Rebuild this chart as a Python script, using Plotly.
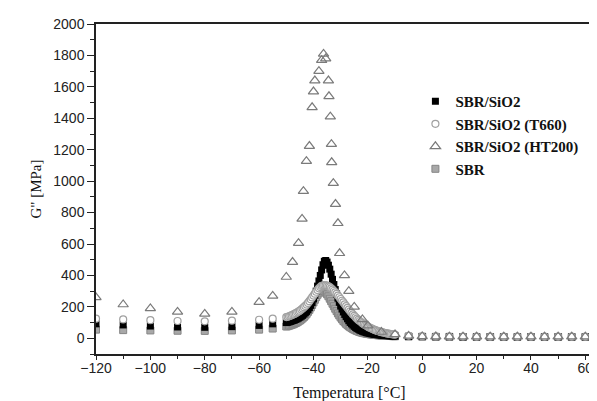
import plotly.graph_objects as go

# ---- data ----
t_low = [-120, -110, -100, -90, -80, -70, -60, -55]
t_mid = [-50 + 0.5 * i for i in range(81)]  # -50 .. -10 in 0.5 steps
t_high = [-5, 0, 5, 10, 15, 20, 25, 30, 35, 40, 45, 50, 55, 60]

sio2_low = [92, 85, 78, 72, 70, 74, 82, 92]
sio2_mid = [100, 102, 104, 107, 110, 113, 116, 120, 124, 129, 134, 140, 146, 154, 162, 171,
            182, 195, 210, 228, 250, 274, 300, 332, 365, 400, 435, 468, 490, 495, 485, 465,
            440, 408, 375, 342, 310, 282, 255, 229, 205, 186, 168, 152, 138, 124, 112, 101,
            92, 84, 76, 69, 63, 58, 53, 49, 45, 42, 39, 36, 34, 32, 30, 28, 27, 25, 24, 23,
            22, 21, 20, 19, 18, 17.5, 17, 16.5, 16, 15.5, 15, 14.5, 14]
sio2_high = [12, 11, 10, 10, 9, 9, 9, 9, 9, 9, 9, 9, 9, 9]

t660_low = [125, 120, 115, 110, 108, 112, 118, 125]
t660_mid = [135, 137, 140, 143, 147, 151, 155, 160, 165, 170, 176, 183, 190, 198, 206, 215,
            225, 236, 248, 260, 272, 284, 296, 307, 318, 326, 333, 336, 338, 337, 335, 330,
            325, 318, 310, 301, 292, 282, 272, 261, 250, 239, 228, 216, 205, 194, 183, 172,
            162, 152, 143, 134, 125, 117, 110, 103, 96, 90, 84, 79, 74, 69, 65, 61, 57, 53,
            50, 47, 44, 41, 39, 37, 35, 33, 31, 29.5, 28, 26.5, 25, 24, 23]
t660_high = [16, 13, 12, 11, 11, 10, 10, 10, 10, 10, 10, 10, 10, 10]

sbr_low = [55, 52, 50, 48, 47, 50, 55, 62]
sbr_mid = [75, 77, 80, 83, 86, 89, 93, 97, 102, 107, 113, 120, 127, 136, 145, 156, 168, 181,
           196, 212, 228, 245, 262, 277, 290, 299, 305, 304, 300, 291, 280, 267, 252, 236,
           220, 204, 188, 173, 158, 145, 132, 121, 110, 101, 92, 84, 77, 71, 65, 60, 55, 51,
           47, 43, 40, 37, 35, 33, 31, 29.5, 28, 26.5, 25, 24, 23, 22, 21, 20, 19, 18.5, 18,
           17.5, 17, 16.5, 16, 15.5, 15, 14.5, 14, 13.5, 13]
sbr_high = [11, 10, 9, 9, 8, 8, 8, 8, 8, 8, 8, 8, 8, 8]

ht_t = [-120, -110, -100, -90, -80, -70, -60, -55, -50, -47.7, -45.5, -44.2, -43.7, -42.6,
        -41.5, -40.5, -40, -39.5, -38, -37, -36.3, -35.5, -34.5, -34.3, -33.8, -33.4, -33.3,
        -32.7, -31.9, -31, -30.4, -28.6, -27, -25, -22, -20, -15, -10, -5, 0, 5, 10, 15, 20,
        25, 30, 35, 40, 45, 50, 55, 60]
ht_v = [260, 215, 190, 168, 155, 168, 230, 270, 390, 485, 605, 760, 936, 1127, 1223, 1470,
        1570, 1640, 1700, 1770, 1810, 1780, 1640, 1540, 1410, 1235, 1120, 987, 854, 732, 541,
        400, 300, 200, 120, 80, 40, 25, 15, 12, 11, 10, 10, 10, 10, 10, 10, 10, 10, 10, 10, 10]

names = ["SBR/SiO2", "SBR/SiO2 (T660)", "SBR/SiO2 (HT200)", "SBR"]

assert len(sio2_mid) == len(t_mid) == len(t660_mid) == len(sbr_mid)
assert len(ht_t) == len(ht_v)

temps = t_low + t_mid + t_high

fig = go.Figure()
fig.add_trace(go.Scatter(x=temps, y=sbr_low + sbr_mid + sbr_high, mode="markers",
                         name=names[3], legendrank=4,
                         marker=dict(symbol="square", size=7, color="#a8a8a8",
                                     line=dict(color="#858585", width=1))))
fig.add_trace(go.Scatter(x=temps, y=sio2_low + sio2_mid + sio2_high, mode="markers",
                         name=names[0], legendrank=1,
                         marker=dict(symbol="square", size=7, color="#000000")))
fig.add_trace(go.Scatter(x=temps, y=t660_low + t660_mid + t660_high, mode="markers",
                         name=names[1], legendrank=2,
                         marker=dict(symbol="circle", size=7, color="white",
                                     line=dict(color="#a0a0a0", width=1.2))))
fig.add_trace(go.Scatter(x=ht_t, y=ht_v, mode="markers", name=names[2], legendrank=3,
                         marker=dict(symbol="triangle-up-open", size=9, color="#7a7a7a",
                                     line=dict(width=1.2))))

axis_font = dict(family="Liberation Sans", size=14, color="#222")
fig.update_layout(
    width=597, height=401,
    margin=dict(l=88, r=0, t=16, b=55),
    paper_bgcolor="white", plot_bgcolor="white",
    showlegend=True,
    legend=dict(x=0.63, y=0.815, xanchor="left", yanchor="top",
                font=dict(family="Liberation Serif", size=15, color="#111", weight="bold"),
                bgcolor="rgba(0,0,0,0)", tracegroupgap=0, itemwidth=30),
    xaxis=dict(range=[-120, 66.5], dtick=20, tick0=-120, showgrid=False, zeroline=False,
               showline=True, linecolor="#222", linewidth=1.5, mirror=True,
               ticks="outside", ticklen=4, tickwidth=1.2, tickcolor="#222",
               minor=dict(dtick=10, ticks="outside", ticklen=3, tickcolor="#222"),
               tickfont=axis_font, ticklabelstandoff=-4,
               title=dict(text="Temperatura [°C]", standoff=12,
                          font=dict(family="Liberation Serif", size=16, color="#111"))),
    yaxis=dict(range=[-100, 2000], dtick=200, tick0=0, showgrid=False, zeroline=False,
               showline=True, linecolor="#222", linewidth=1.5, mirror=True,
               ticks="outside", ticklen=7, tickwidth=1.2, tickcolor="#222",
               minor=dict(dtick=100, ticks="outside", ticklen=4, tickcolor="#222"),
               tickfont=axis_font,
               title=dict(text="G\" [MPa]", standoff=8,
                          font=dict(family="Liberation Serif", size=15, color="#111"))),
)
fig.write_html("out.html")
